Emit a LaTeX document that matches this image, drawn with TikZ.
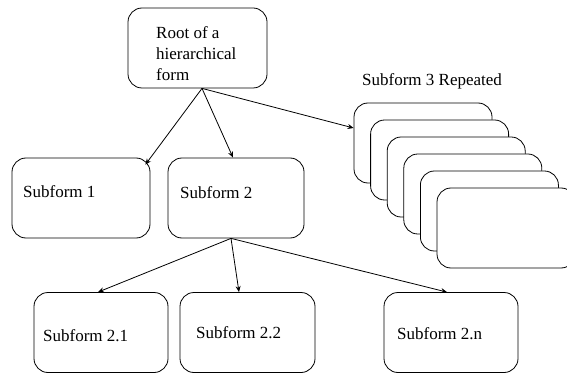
\documentclass[tikz,border=0pt]{standalone}
\usepackage{fontspec}
\setmainfont{Liberation Serif}
\usetikzlibrary{arrows.meta}

\begin{document}
\begin{tikzpicture}[x=1pt,y=-1pt,>={Stealth[length=6pt,width=5pt]},line cap=round,line join=round,
  box/.style={draw,line width=0.8pt,rounded corners=14pt,fill=white,inner sep=0pt,minimum width=#1,minimum height=80pt},
  lbl/.style={anchor=base west,inner sep=0pt,font=\fontsize{17}{21}\selectfont},
  arr/.style={->,line width=0.8pt}]
\useasboundingbox (0,0) rectangle (567,374);
\node[box=139pt] (root) at (197.5,48) {};
\node[anchor=north west,inner sep=0pt,align=left,font=\fontsize{17}{21}\selectfont] (roottxt) at (156,26) {Root of a\\hierarchical\\form};
\node[box=138pt] (sub1) at (81,198) {};
\node[lbl] (sub1txt) at (23,197) {Subform 1};
\node[box=136pt] (sub2) at (236,198) {};
\node[lbl] (sub2txt) at (180,198) {Subform 2};
\node[box=134pt] (sub21) at (101,332.5) {};
\node[lbl] (sub21txt) at (43,341) {Subform 2.1};
\node[box=135pt] (sub22) at (247.5,332.5) {};
\node[lbl] (sub22txt) at (196,338) {Subform 2.2};
\node[box=134pt] (sub2n) at (451,332.5) {};
\node[lbl] (sub2ntxt) at (397,339) {Subform 2.n};
% repeated subform 3
\foreach \i in {0,...,5}
  \node[box=138pt] (rep\i) at ({423+16.6*\i},{143+17*\i}) {};
\node[lbl] (reptxt) at (362,86) {Subform 3 Repeated};
\draw[arr] ([xshift=4.5pt]root.south) -- ([xshift=-5pt,yshift=-7pt]sub1.north east);
\draw[arr] ([xshift=4.5pt]root.south) -- ([xshift=-3pt]sub2.north);
\draw[arr] ([xshift=4.5pt]root.south) -- ([yshift=15pt]rep0.west);
\draw[arr] ([xshift=-5pt]sub2.south) -- ([xshift=-3pt]sub21.north);
\draw[arr] ([xshift=-5pt]sub2.south) -- ([xshift=-8.5pt]sub22.north);
\draw[arr] ([xshift=-5pt]sub2.south) -- ([xshift=-4pt]sub2n.north);
\end{tikzpicture}
\end{document}
